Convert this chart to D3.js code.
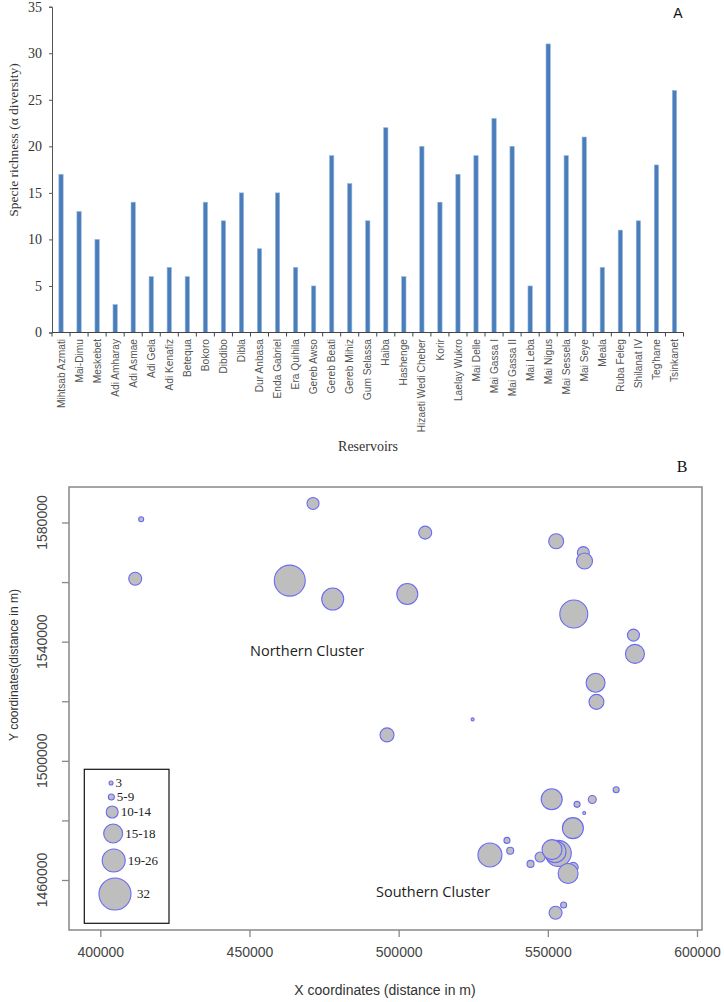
<!DOCTYPE html>
<html>
<head>
<meta charset="utf-8">
<script src="https://cdn.jsdelivr.net/npm/d3@7"></script>
<style>
  body { margin: 0; background: #fff; }
  svg { display: block; }
</style>
</head>
<body>
<div id="chart"></div>
<script>
// panel A data
const reservoirs = ['Mihtsab Azmati', 'Mai-Dimu', 'Meskebet', 'Adi Amharay', 'Adi Asmae', 'Adi Gela',
  'Adi Kenafiz', 'Betequa', 'Bokoro', 'Dibdibo', 'Dibla', 'Dur Anbasa', 'Enda Gabriel', 'Era Quihila',
  'Gereb Awso', 'Gereb Beati', 'Gereb Mihiz', 'Gum Selassa', 'Haiba', 'Hashenge', 'Hizaeti Wedi Cheber',
  'Korir', 'Laelay Wukro', 'Mai Delle', 'Mai Gassa I', 'Mai Gassa II', 'Mai Leba', 'Mai Nigus',
  'Mai Sessela', 'Mai Seye', 'Meala', 'Ruba Feleg', 'Shilanat IV', "Teg'hane", 'Tsinkanet'];
const richness = [17, 13, 10, 3, 14, 6, 7, 6, 14, 12, 15, 9, 15, 7, 5, 19, 16, 12, 22, 6, 20,
  14, 17, 19, 23, 20, 5, 31, 19, 21, 7, 11, 12, 18, 26];
const yTicksA = [0, 5, 10, 15, 20, 25, 30, 35];

// panel B data (site coordinates in m, and species count)
const siteX = [413700, 411700, 471300, 463500, 477900, 496100, 508900, 502900, 552800, 561900,
  562300, 558700, 578700, 579200, 566000, 566300, 524800, 572900, 551300, 564900, 559800, 562200,
  558400, 536300, 537400, 530600, 544200, 547400, 553500, 552400, 551400, 558500, 556800, 555300, 552600];
const siteY = [1581100, 1561100, 1586400, 1560500, 1554300, 1508700, 1576600, 1556000, 1573700, 1569900,
  1567100, 1549300, 1542200, 1535900, 1526200, 1519800, 1513900, 1490300, 1487100, 1487000, 1485400, 1482500,
  1477400, 1473300, 1469800, 1468400, 1465400, 1467700, 1468950, 1469500, 1470200, 1464250, 1462200, 1451600, 1449000];
const siteRich = [5, 13, 12, 31, 22, 14, 13, 21, 15, 12,
  16, 28, 12, 19, 19, 15, 3, 6, 21, 8, 6, 3,
  21, 6, 7, 24, 7, 10, 26, 22, 20, 10, 20, 6, 13];
const xTicksB = [400000, 450000, 500000, 550000, 600000];
const yTicksB = [1460000, 1480000, 1500000, 1520000, 1540000, 1560000, 1580000];
const yLabelsB = [1460000, 1500000, 1540000, 1580000];
const legendLabels = ['3', '5-9', '10-14', '15-18', '19-26', '32'];
const legendValues = [4, 6, 12, 19, 23, 32];

const W = 724, H = 1002;
const svg = d3.select('#chart').append('svg').attr('width', W).attr('height', H);

// ---------- panel A : bar chart ----------
const serif = '"Liberation Serif", "Times New Roman", serif';
const sans = '"Liberation Sans", Arial, sans-serif';

const xA = d3.scaleBand().domain(reservoirs).range([52, 683.5]).paddingInner(0.76).paddingOuter(0.38);
const yA = d3.scaleLinear().domain([0, 35]).range([332.5, 6.7]);
const stepA = xA.step();

const gA = svg.append('g');

gA.selectAll('rect.bar')
  .data(richness)
  .enter()
  .append('rect')
  .attr('class', 'bar')
  .attr('x', (d, i) => xA(reservoirs[i]))
  .attr('width', xA.bandwidth())
  .attr('y', d => yA(d))
  .attr('height', d => yA(0) - yA(d))
  .attr('fill', '#4a7ebb')
  .attr('stroke', '#9ab8dd')
  .attr('stroke-width', 0.6);

// y axis
const yAxisA = d3.axisLeft(yA).tickValues(yTicksA).tickSize(3).tickPadding(7);
gA.append('g')
  .attr('transform', 'translate(52,0)')
  .call(yAxisA)
  .call(g => g.select('.domain').attr('stroke', '#555'))
  .call(g => g.selectAll('.tick line').attr('stroke', '#555'))
  .call(g => g.selectAll('.tick text').attr('font-family', serif).attr('font-size', 14).attr('fill', '#333'));

// x axis: tick marks at category boundaries
gA.append('line')
  .attr('x1', 52).attr('x2', 683.5)
  .attr('y1', yA(0)).attr('y2', yA(0))
  .attr('stroke', '#444').attr('stroke-width', 1.2);
const bounds = reservoirs.map(r => xA(r) - stepA * xA.paddingInner() / 2).concat([683.5]);
gA.selectAll('line.xt')
  .data(bounds)
  .enter()
  .append('line')
  .attr('class', 'xt')
  .attr('x1', d => d).attr('x2', d => d)
  .attr('y1', yA(0)).attr('y2', yA(0) + 4)
  .attr('stroke', '#444');

gA.selectAll('text.xl')
  .data(reservoirs)
  .enter()
  .append('text')
  .attr('class', 'xl')
  .attr('transform', d => `translate(${xA(d) + xA.bandwidth() / 2 + 3.6},339) rotate(-90)`)
  .attr('text-anchor', 'end')
  .attr('font-family', sans)
  .attr('font-size', 10.2)
  .attr('fill', '#555')
  .text(d => d);

gA.append('text')
  .attr('x', 368).attr('y', 451)
  .attr('text-anchor', 'middle')
  .attr('font-family', serif).attr('font-size', 14).attr('fill', '#333')
  .text('Reservoirs');

gA.append('text')
  .attr('transform', 'translate(18,140) rotate(-90)')
  .attr('text-anchor', 'middle')
  .attr('font-family', serif).attr('font-size', 13.5).attr('fill', '#333')
  .text('Specie richness (α diversity)');

gA.append('text')
  .attr('x', 678).attr('y', 18)
  .attr('text-anchor', 'middle')
  .attr('font-family', sans).attr('font-size', 14).attr('fill', '#111')
  .text('A');

// ---------- panel B : bubble map ----------
const box = { left: 69, right: 702, top: 487, bottom: 930 };
const xB = d3.scaleLinear().domain([400000, 600000]).range([100.3, 697]);
const yB = d3.scaleLinear().domain([1460000, 1580000]).range([880, 522.5]);
const rB = d3.scaleLinear().domain([0, 32]).range([0, 16]);

const gB = svg.append('g');

gB.append('rect')
  .attr('x', box.left).attr('y', box.top)
  .attr('width', box.right - box.left).attr('height', box.bottom - box.top)
  .attr('fill', 'none').attr('stroke', '#888').attr('stroke-width', 1.5);

gB.selectAll('circle.site')
  .data(siteRich)
  .enter()
  .append('circle')
  .attr('class', 'site')
  .attr('cx', (d, i) => xB(siteX[i]))
  .attr('cy', (d, i) => yB(siteY[i]))
  .attr('r', d => rB(d))
  .attr('fill', '#bebebe')
  .attr('stroke', '#6a6af5')
  .attr('stroke-width', 1.1);

// x axis
gB.append('g')
  .attr('transform', `translate(0,${box.bottom})`)
  .call(d3.axisBottom(xB).tickValues(xTicksB).tickSize(7).tickPadding(10).tickFormat(d3.format('d')))
  .call(g => g.select('.domain').remove())
  .call(g => g.selectAll('.tick line').attr('stroke', '#888').attr('stroke-width', 1.3))
  .call(g => g.selectAll('.tick text').attr('font-family', sans).attr('font-size', 14).attr('fill', '#444'));

// y axis
gB.append('g')
  .attr('transform', `translate(${box.left},0)`)
  .call(d3.axisLeft(yB).tickValues(yTicksB).tickSize(7).tickFormat(''))
  .call(g => g.select('.domain').remove())
  .call(g => g.selectAll('.tick line').attr('stroke', '#888').attr('stroke-width', 1.3));

gB.selectAll('text.yl')
  .data(yLabelsB)
  .enter()
  .append('text')
  .attr('class', 'yl')
  .attr('transform', d => `translate(47,${yB(d)}) rotate(-90)`)
  .attr('text-anchor', 'middle')
  .attr('font-family', sans).attr('font-size', 14).attr('fill', '#444')
  .text(d => d3.format('d')(d));

gB.append('text')
  .attr('x', 385).attr('y', 995)
  .attr('text-anchor', 'middle')
  .attr('font-family', sans).attr('font-size', 14).attr('fill', '#333')
  .text('X coordinates (distance in m)');

gB.append('text')
  .attr('transform', 'translate(18,665) rotate(-90)')
  .attr('text-anchor', 'middle')
  .attr('font-family', sans).attr('font-size', 12).attr('fill', '#333')
  .text('Y coordinates(distance in m)');

gB.append('text')
  .attr('x', 250).attr('y', 656)
  .attr('font-family', '"Open Sans", "Noto Sans", sans-serif').attr('font-size', 14.5).attr('fill', '#222')
  .text('Northern Cluster');

gB.append('text')
  .attr('x', 376).attr('y', 897)
  .attr('font-family', '"Open Sans", "Noto Sans", sans-serif').attr('font-size', 14.5).attr('fill', '#222')
  .text('Southern Cluster');

gB.append('text')
  .attr('x', 682).attr('y', 472)
  .attr('text-anchor', 'middle')
  .attr('font-family', serif).attr('font-size', 16).attr('fill', '#111')
  .text('B');

// legend
const leg = gB.append('g');
leg.append('rect')
  .attr('x', 84.3).attr('y', 769.3).attr('width', 84.7).attr('height', 154)
  .attr('fill', '#fff').attr('stroke', '#111').attr('stroke-width', 1.2);

let cy = 783, prevR = 0;
const rows = legendValues.map((v, i) => {
  const r = rB(v);
  if (i > 0) cy += Math.max(prevR + r + 6, 14);
  prevR = r;
  return { label: legendLabels[i], r: r, cy: cy, cx: 110.5 + r * 0.28 };
});

leg.selectAll('circle')
  .data(rows)
  .enter()
  .append('circle')
  .attr('cx', d => d.cx).attr('cy', d => d.cy).attr('r', d => d.r)
  .attr('fill', '#bebebe').attr('stroke', '#6a6af5').attr('stroke-width', 1.1);

leg.selectAll('text')
  .data(rows)
  .enter()
  .append('text')
  .attr('x', (d, i) => d.cx + d.r + (i === rows.length - 1 ? 6 : 2.5))
  .attr('y', d => d.cy + 4.2)
  .attr('font-family', serif).attr('font-size', 13).attr('fill', '#222')
  .text(d => d.label);
</script>
</body>
</html>
